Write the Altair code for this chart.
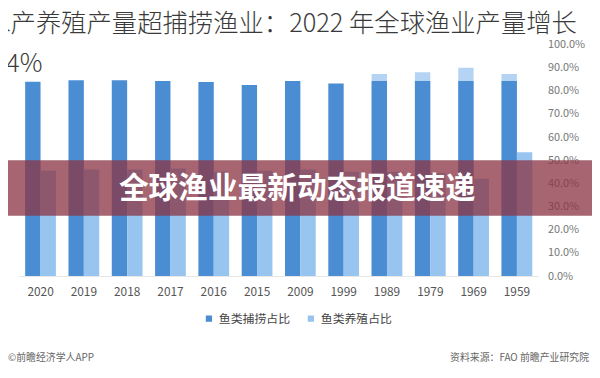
import altair as alt
import pandas as pd

# ---- data ----
years = ["2020", "2019", "2018", "2017", "2016", "2015", "2009", "1999", "1989", "1979", "1969", "1959"]
capture_share = [83.9, 84.5, 84.5, 84.2, 83.8, 82.5, 84.2, 83.1, 84.2, 84.2, 84.2, 84.2]
aqua_share = [45.5, 46.0, 46.0, 46.5, 45.0, 45.5, 46.0, 45.0, 45.0, 44.5, 42.0, 53.5]
cap_years = ["1989", "1979", "1969", "1959"]
cap_values = [87.3, 88.0, 89.9, 87.3]
series_names = ["鱼类捕捞占比", "鱼类养殖占比"]
series_colors = ["#4A8DD3", "#98C4F0"]
cap_color = "#B5D4F3"
y_ticks = [0, 10, 20, 30, 40, 50, 60, 70, 80, 90, 100]

title_line1 = "水产养殖产量超捕捞渔业：2022 年全球渔业产量增长"
title_line2 = "4.4%"
banner_text = "全球渔业最新动态报道速递"
note_left = "©前瞻经济学人APP"
note_right = "资料来源：FAO 前瞻产业研究院"

FONT = "Noto Sans CJK SC"

rows = []
for y, c, a in zip(years, capture_share, aqua_share):
    rows.append({"year": y, "series": series_names[0], "value": c})
    rows.append({"year": y, "series": series_names[1], "value": a})
df = pd.DataFrame(rows)
df_cap = pd.DataFrame({"year": cap_years, "series": series_names[0], "value": cap_values})

x_enc = alt.X("year:N", sort=years,
              scale=alt.Scale(paddingInner=0.29, paddingOuter=0.145),
              axis=alt.Axis(title=None, labelAngle=0, ticks=False, domain=True,
                            domainColor="#e6e6e6", labelFontSize=12, labelColor="#555",
                            labelPadding=11, labelFont=FONT))
xo_enc = alt.XOffset("series:N", scale=alt.Scale(domain=series_names, paddingInner=0, paddingOuter=0))
y_enc = alt.Y("value:Q", scale=alt.Scale(domain=[0, 100], nice=False),
              axis=alt.Axis(title=None, orient="right", values=y_ticks, grid=False, ticks=False,
                            domain=False, labelAlign="left", labelPadding=9, labelFontSize=11,
                            labelColor="#777", labelFont=FONT,
                            labelExpr="format(datum.value, '.1f') + '%'"))

caps = alt.Chart(df_cap).mark_bar(color=cap_color).encode(x=x_enc, xOffset=xo_enc, y=y_enc)

bars = alt.Chart(df).mark_bar().encode(
    x=x_enc, xOffset=xo_enc, y=y_enc,
    color=alt.Color("series:N", scale=alt.Scale(domain=series_names, range=series_colors),
                    legend=alt.Legend(title=None, orient="none", legendX=186, legendY=271,
                                      direction="horizontal", symbolType="square", symbolSize=40,
                                      labelFontSize=12, labelColor="#444", labelFont=FONT,
                                      columnPadding=14, symbolStrokeWidth=0)),
)

one = pd.DataFrame({"k": [0]})

banner = alt.Chart(one).mark_rect(color="#8A3444", opacity=0.76).encode(
    x=alt.value(-30), x2=alt.value(600), y=alt.value(117), y2=alt.value(173))

banner_txt = alt.Chart(one).mark_text(text=banner_text, font=FONT, fontSize=30, fontWeight="bold",
                                      color="white", align="center", baseline="middle").encode(
    x=alt.value(281), y=alt.value(146))

t1 = alt.Chart(one).mark_text(text=title_line1, font=FONT, fontSize=25.6, fontWeight=300,
                              color="#3a3a3a", align="left", baseline="alphabetic").encode(
    x=alt.value(-34), y=alt.value(-13))
t2 = alt.Chart(one).mark_text(text=title_line2, font=FONT, fontSize=25.6, fontWeight=300,
                              color="#3a3a3a", align="left", baseline="alphabetic").encode(
    x=alt.value(-33), y=alt.value(28))

n1 = alt.Chart(one).mark_text(text=note_left, font=FONT, fontSize=10, color="#666",
                              align="left", baseline="middle").encode(
    x=alt.value(-11), y=alt.value(317))
n2 = alt.Chart(one).mark_text(text=note_right, font=FONT, fontSize=10, color="#666",
                              align="right", baseline="middle").encode(
    x=alt.value(576), y=alt.value(317))

chart = alt.layer(caps, bars, banner, banner_txt, t1, t2, n1, n2).properties(
    width=525, height=234,
    autosize=alt.AutoSizeParams(type="none"),
    padding={"left": 11, "top": 35, "right": 54, "bottom": 88},
    background="white",
).configure_view(stroke=None)

chart.save("out.html", embed_options={"renderer": "svg", "actions": False})
